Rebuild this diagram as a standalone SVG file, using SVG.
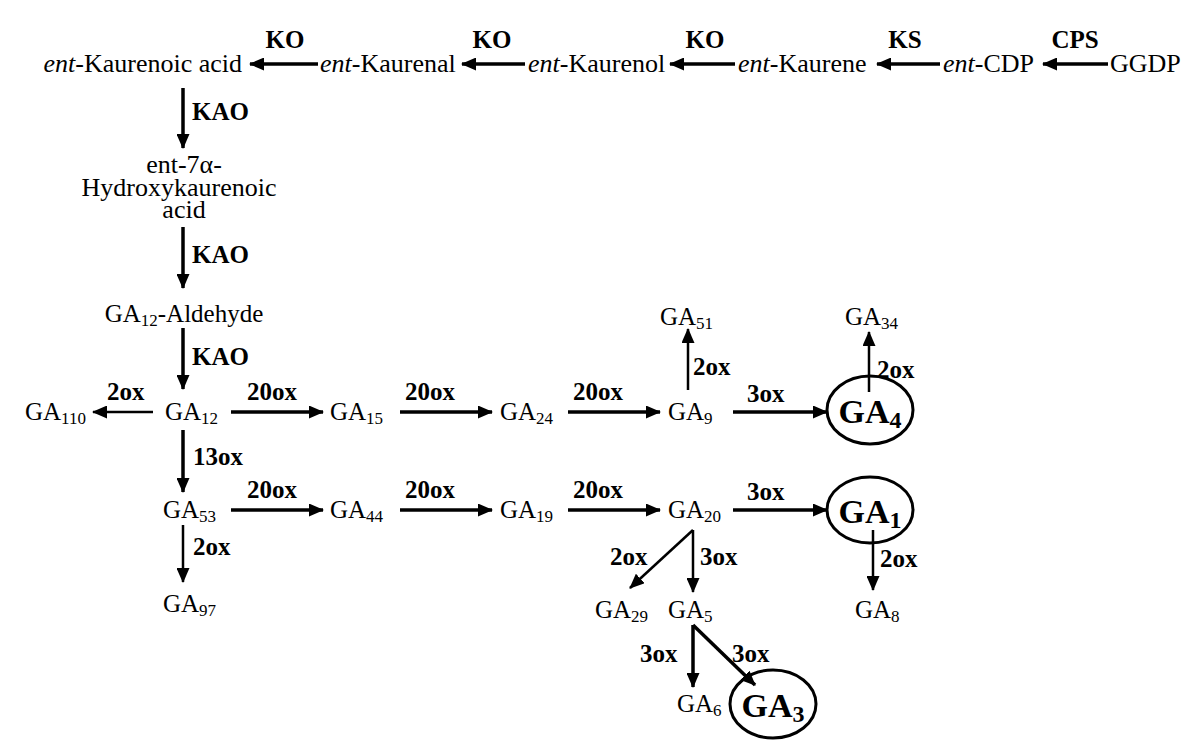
<svg xmlns="http://www.w3.org/2000/svg" width="1200" height="751" viewBox="0 0 1200 751">
<defs>
<style>
.t{font-family:"Liberation Serif","Times New Roman",serif;font-size:26px;fill:#000}
.g{font-family:"Liberation Serif","Times New Roman",serif;font-size:25px;fill:#000}
.b{font-family:"Liberation Serif","Times New Roman",serif;font-size:25px;font-weight:bold;fill:#000}
.big{font-family:"Liberation Serif","Times New Roman",serif;font-size:34px;font-weight:bold;fill:#000;text-anchor:middle}
.s{font-size:17px}
.sb{font-size:24px}
.a{stroke:#000;stroke-width:3.5;fill:none;marker-end:url(#ah)}
.at{stroke:#000;stroke-width:2.5;fill:none;marker-end:url(#ah)}
.e{stroke:#000;stroke-width:3;fill:none}
</style>
<marker id="ah" markerWidth="15" markerHeight="13" refX="14" refY="6.5" orient="auto" markerUnits="userSpaceOnUse"><path d="M0,0 L15,6.5 L0,13 z" fill="#000"/></marker>
</defs>
<g id="connectors">
<line class="a" x1="318" y1="64" x2="250" y2="64"/>
<line class="a" x1="525" y1="64" x2="462" y2="64"/>
<line class="a" x1="735" y1="64" x2="670" y2="64"/>
<line class="a" x1="940" y1="64" x2="877" y2="64"/>
<line class="a" x1="1108" y1="64" x2="1043" y2="64"/>
<line class="a" x1="183" y1="88" x2="183" y2="148"/>
<line class="a" x1="183" y1="227" x2="183" y2="288"/>
<line class="a" x1="183" y1="328" x2="183" y2="389"/>
<line class="at" x1="153" y1="412" x2="93" y2="412"/>
<line class="a" x1="231" y1="412" x2="323" y2="412"/>
<line class="a" x1="400" y1="412" x2="492" y2="412"/>
<line class="a" x1="568" y1="412" x2="660" y2="412"/>
<line class="a" x1="733" y1="412" x2="827" y2="412"/>
<line class="at" x1="688" y1="390" x2="688" y2="329"/>
<line class="at" x1="869" y1="392" x2="869" y2="332"/>
<line class="a" x1="183" y1="430" x2="183" y2="492"/>
<line class="a" x1="231" y1="510" x2="323" y2="510"/>
<line class="a" x1="400" y1="510" x2="492" y2="510"/>
<line class="a" x1="568" y1="510" x2="660" y2="510"/>
<line class="a" x1="733" y1="510" x2="827" y2="510"/>
<line class="at" x1="183" y1="525" x2="183" y2="582"/>
<line class="at" x1="873" y1="530" x2="873" y2="590"/>
<line class="at" x1="693" y1="530" x2="630" y2="588"/>
<line class="at" x1="693" y1="530" x2="693" y2="592"/>
<line class="a" x1="693" y1="625" x2="693" y2="687"/>
<line class="a" x1="693" y1="625" x2="755" y2="685"/>
</g>
<g id="labels">
<text class="b" x="285" y="48" text-anchor="middle">KO</text>
<text class="b" x="492" y="48" text-anchor="middle">KO</text>
<text class="b" x="705" y="48" text-anchor="middle">KO</text>
<text class="b" x="905" y="48" text-anchor="middle">KS</text>
<text class="b" x="1075" y="48" text-anchor="middle">CPS</text>
<text class="b" x="192" y="120">KAO</text>
<text class="b" x="192" y="263">KAO</text>
<text class="b" x="192" y="365">KAO</text>
<text class="b" x="107" y="400">2ox</text>
<text class="b" x="247" y="400">20ox</text>
<text class="b" x="405" y="400">20ox</text>
<text class="b" x="573" y="400">20ox</text>
<text class="b" x="747" y="402">3ox</text>
<text class="b" x="693" y="375">2ox</text>
<text class="b" x="877" y="378">2ox</text>
<text class="b" x="193" y="465">13ox</text>
<text class="b" x="247" y="498">20ox</text>
<text class="b" x="405" y="498">20ox</text>
<text class="b" x="573" y="498">20ox</text>
<text class="b" x="747" y="500">3ox</text>
<text class="b" x="193" y="555">2ox</text>
<text class="b" x="880" y="567">2ox</text>
<text class="b" x="610" y="565">2ox</text>
<text class="b" x="700" y="565">3ox</text>
<text class="b" x="640" y="662">3ox</text>
<text class="b" x="732" y="662">3ox</text>
</g>
<g id="n-kaurenoic"><text class="t" x="242" y="72" text-anchor="end"><tspan font-style="italic">ent</tspan>-Kaurenoic acid</text></g>
<g id="n-kaurenal"><text class="t" x="320" y="72"><tspan font-style="italic">ent</tspan>-Kaurenal</text></g>
<g id="n-kaurenol"><text class="t" x="528" y="72"><tspan font-style="italic">ent</tspan>-Kaurenol</text></g>
<g id="n-kaurene"><text class="t" x="738" y="72"><tspan font-style="italic">ent</tspan>-Kaurene</text></g>
<g id="n-cdp"><text class="t" x="943" y="72"><tspan font-style="italic">ent</tspan>-CDP</text></g>
<g id="n-ggdp"><text class="t" x="1110" y="72">GGDP</text></g>
<g id="n-hydroxy">
<text class="t" text-anchor="middle"><tspan x="184" y="173">ent-7α-</tspan><tspan x="179" y="196">Hydroxykaurenoic</tspan><tspan x="184" y="218">acid</tspan></text>
</g>
<g id="n-ga12ald"><text class="g" x="184" y="322" text-anchor="middle">GA<tspan class="s" dy="4">12</tspan><tspan dy="-4">-Aldehyde</tspan></text></g>
<g id="n-ga110"><text class="g" x="25" y="420">GA<tspan class="s" dy="4">110</tspan></text></g>
<g id="n-ga12"><text class="g" x="165" y="420">GA<tspan class="s" dy="4">12</tspan></text></g>
<g id="n-ga15"><text class="g" x="330" y="420">GA<tspan class="s" dy="4">15</tspan></text></g>
<g id="n-ga24"><text class="g" x="500" y="420">GA<tspan class="s" dy="4">24</tspan></text></g>
<g id="n-ga9"><text class="g" x="668" y="420">GA<tspan class="s" dy="4">9</tspan></text></g>
<g id="n-ga51"><text class="g" x="660" y="325">GA<tspan class="s" dy="4">51</tspan></text></g>
<g id="n-ga34"><text class="g" x="845" y="325">GA<tspan class="s" dy="4">34</tspan></text></g>
<g id="n-ga4"><ellipse class="e" cx="870" cy="410" rx="43" ry="34"/><text class="big" x="870" y="423">GA<tspan class="sb" dy="5">4</tspan></text></g>
<g id="n-ga53"><text class="g" x="163" y="518">GA<tspan class="s" dy="4">53</tspan></text></g>
<g id="n-ga44"><text class="g" x="330" y="518">GA<tspan class="s" dy="4">44</tspan></text></g>
<g id="n-ga19"><text class="g" x="500" y="518">GA<tspan class="s" dy="4">19</tspan></text></g>
<g id="n-ga20"><text class="g" x="668" y="518">GA<tspan class="s" dy="4">20</tspan></text></g>
<g id="n-ga1"><ellipse class="e" cx="870" cy="510" rx="43" ry="33"/><text class="big" x="870" y="523">GA<tspan class="sb" dy="5">1</tspan></text></g>
<g id="n-ga97"><text class="g" x="163" y="612">GA<tspan class="s" dy="4">97</tspan></text></g>
<g id="n-ga29"><text class="g" x="595" y="618">GA<tspan class="s" dy="4">29</tspan></text></g>
<g id="n-ga5"><text class="g" x="668" y="618">GA<tspan class="s" dy="4">5</tspan></text></g>
<g id="n-ga8"><text class="g" x="855" y="618">GA<tspan class="s" dy="4">8</tspan></text></g>
<g id="n-ga6"><text class="g" x="677" y="712" font-size="23">GA<tspan class="s" dy="4">6</tspan></text></g>
<g id="n-ga3"><ellipse class="e" cx="773" cy="704" rx="43" ry="34"/><text class="big" x="773" y="717">GA<tspan class="sb" dy="5">3</tspan></text></g>
</svg>
